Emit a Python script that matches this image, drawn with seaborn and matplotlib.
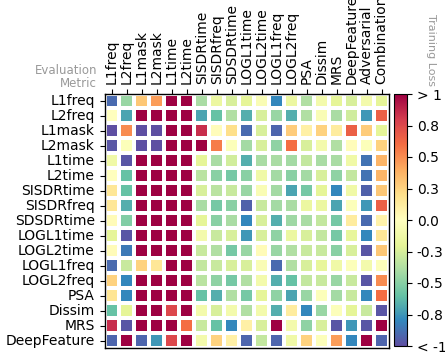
import matplotlib
matplotlib.use("Agg")
import matplotlib.pyplot as plt
import seaborn as sns
import numpy as np
import pandas as pd

eval_metrics = ["L1freq", "L2freq", "L1mask", "L2mask", "L1time", "L2time",
                "SISDRtime", "SISDRfreq", "SDSDRtime", "LOGL1time", "LOGL2time",
                "LOGL1freq", "LOGL2freq", "PSA", "Dissim", "MRS", "DeepFeature"]
train_losses = eval_metrics + ["Adversarial", "Combination"]

r_L1freq = [-0.9, -0.45, 0.3, 0.45, 1, 1, -0.4, -0.15, -0.25, -0.2, -0.05, -0.8, -0.15, -0.38, -0.1, -0.2, -0.25, -0.1, -0.2]
r_L2freq = [0.0, -0.7, 1, 1, 1, 1, -0.7, -0.6, -0.38, -0.67, -0.25, -0.45, -0.67, -0.38, -0.05, -0.4, -0.28, -0.75, 0.65]
r_L1mask = [-1.0, 0.5, -1.0, -1.0, 1, 1, 0.85, 0.02, 0.2, -0.9, -0.25, -0.92, 0.28, 0.1, 0.25, 0.12, 0.65, 0.28, -0.2]
r_L2mask = [-0.97, -0.03, -1.0, -1.0, 1, 1, 1, 0.55, -0.03, -0.42, -0.25, -0.48, 0.6, -0.25, -0.1, -0.38, 0.02, -0.03, 0.25]
r_L1time = [-0.12, -0.97, 1, 1, 1, 1, -0.2, -0.4, -0.27, -0.67, -0.4, -0.4, -0.42, -0.32, -0.4, -0.4, -0.12, -0.87, 0.37]
r_L2time = [0.0, -0.6, 1, 1, 1, 1, -0.35, -0.5, -0.55, -0.5, -0.12, -0.42, -0.5, -0.42, -0.25, -0.48, -0.32, -0.87, 0.37]
r_SISDRtime = [0.15, -0.6, 1, 1, 1, 1, -0.25, -0.35, -0.3, -0.45, -0.05, -0.42, -0.7, -0.55, -0.2, -0.8, -0.12, -0.93, 0.3]
r_SISDRfreq = [0.15, -0.67, 1, 1, 1, 1, -0.4, -0.55, -0.5, -0.93, -0.3, -0.42, -0.4, -0.15, -0.15, -0.7, -0.03, -0.75, 0.65]
r_SDSDRtime = [0.03, -0.52, 1, 1, 1, 1, -0.2, -0.5, -0.4, -0.8, -0.25, -0.67, -0.43, -0.4, -0.32, -0.55, 0.12, -0.9, 0.08]
r_LOGL1time = [-0.2, -0.97, 1, 1, 1, 1, -0.1, -0.3, -0.25, -0.75, -0.25, -0.48, -0.15, -0.25, -0.32, -0.55, -0.18, -0.8, 0.15]
r_LOGL2time = [0.03, -0.85, 1, 1, 1, 1, -0.3, -0.38, -0.55, -0.45, 0.03, -0.45, -0.38, -0.3, -0.3, -0.5, -0.25, -0.97, 0.3]
r_LOGL1freq = [-0.9, -0.3, 0.25, 0.15, 1, 1, -0.32, -0.3, -0.25, -0.25, -0.05, -0.9, -0.38, -0.25, -0.18, -0.12, -0.03, -0.1, -0.03]
r_LOGL2freq = [0.25, -0.8, 1, 1, 1, 1, -0.35, -0.48, -0.55, -0.38, -0.1, -0.67, -0.6, -0.32, -0.3, -0.45, -0.3, -0.97, 0.5]
r_PSA = [0.17, -0.8, 1, 1, 1, 1, -0.6, -0.67, -0.38, -0.55, -0.2, -0.48, -0.7, -0.45, -0.03, -0.42, -0.3, -0.8, 0.6]
r_Dissim = [-0.6, -0.2, 1, 1, 0.75, 1, -0.1, -0.25, -0.1, -0.38, -0.1, -0.67, 0.12, -0.8, -0.45, -0.03, -0.2, -0.3, -0.97]
r_MRS = [0.85, -0.97, 1, 1, 1, 0.6, -0.3, -0.6, -0.8, 0.1, -0.25, 1, -0.1, -0.48, -0.25, -0.97, -0.75, -0.97, 1]
r_DeepFeature = [-0.92, 1, -0.92, -0.75, 0.75, 1, -0.1, 0.25, 0.1, -0.92, -0.32, -0.92, -0.12, 0.25, -0.03, 0.45, -0.8, 1, -0.92]

rows = [r_L1freq, r_L2freq, r_L1mask, r_L2mask, r_L1time, r_L2time, r_SISDRtime,
        r_SISDRfreq, r_SDSDRtime, r_LOGL1time, r_LOGL2time, r_LOGL1freq,
        r_LOGL2freq, r_PSA, r_Dissim, r_MRS, r_DeepFeature]
df = pd.DataFrame(rows, index=eval_metrics, columns=train_losses)

cbar_ticks = [-1, -0.75, -0.5, -0.25, 0, 0.25, 0.5, 0.75, 1]
cbar_labels = ["< -1", "-0.8", "-0.5", "-0.3", "0.0", "0.3", "0.5", "0.8", "> 1"]

fig = plt.figure(figsize=(4.45, 3.53), dpi=100)
ax = fig.add_axes([104.5 / 445, 1 - 348 / 353, 284.5 / 445, 254.5 / 353])
cax = fig.add_axes([394 / 445, 1 - 346 / 353, 13 / 445, 252 / 353])

sns.heatmap(df, ax=ax, cbar_ax=cax, cmap="Spectral_r", vmin=-1, vmax=1,
            linewidths=2.8, linecolor="white", square=False,
            cbar_kws={"ticks": cbar_ticks})

for s in ax.spines.values():
    s.set_visible(True)
    s.set_color("black")
    s.set_linewidth(1.0)

fs = 10
ax.xaxis.tick_top()
ax.set_xticklabels(train_losses, rotation=90, fontsize=fs)
ax.set_yticklabels(eval_metrics, rotation=0, fontsize=fs)
ax.tick_params(axis="both", length=3.5, width=0.8, color="black")
ax.set_xlabel("")
ax.set_ylabel("")

cax.set_yticks(cbar_ticks)
cax.set_yticklabels(cbar_labels, fontsize=fs)
cax.tick_params(length=3.5, width=0.8)
cb = ax.collections[0].colorbar
cb.outline.set_visible(True)
cb.outline.set_edgecolor("black")
cb.outline.set_linewidth(0.8)

fig.text(97 / 445, 1 - 77 / 353, "Evaluation\nMetric", ha="right", va="center",
         fontsize=8.5, color="#999999", linespacing=1.05)
fig.text(431 / 445, 1 - 50 / 353, "Training Loss", ha="center", va="center",
         rotation=270, fontsize=8, color="#999999")

fig.savefig("out.png", dpi=100)
